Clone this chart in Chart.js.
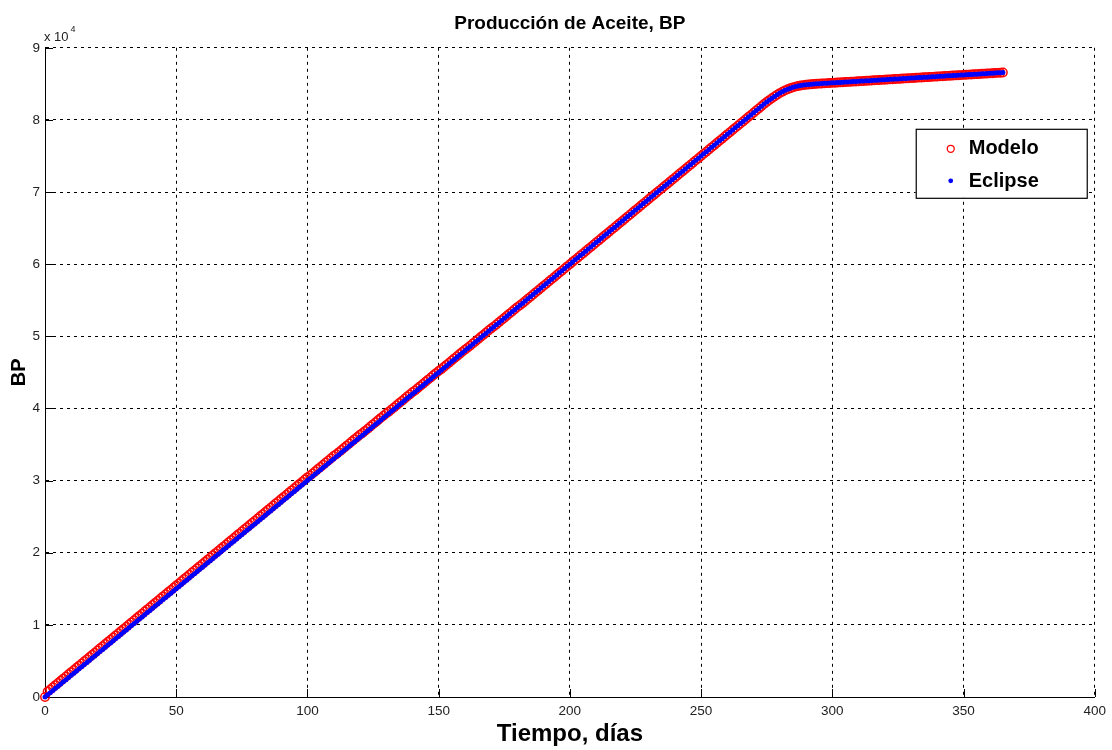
<!DOCTYPE html>
<html lang="es">
<head>
<meta charset="utf-8">
<title>Producción de Aceite, BP</title>
<script src="https://cdn.jsdelivr.net/npm/chart.js@4.4.1/dist/chart.umd.min.js"></script>
<style>
    html, body { margin: 0; padding: 0; background: #fff; }
    canvas { display: block; }
</style>
</head>
<body>
<canvas id="grafica" width="1112" height="750"></canvas>
<script>
// Producción acumulada diaria (BP), día 0 a 365
const eclipseBP = [
    0, 300, 600, 900, 1200, 1500, 1800, 2100, 2400, 2700,
    3000, 3300, 3600, 3900, 4200, 4500, 4800, 5100, 5400, 5700,
    6000, 6300, 6600, 6900, 7200, 7500, 7800, 8100, 8400, 8700,
    9000, 9300, 9600, 9900, 10200, 10500, 10800, 11100, 11400, 11700,
    12000, 12300, 12600, 12900, 13200, 13500, 13800, 14100, 14400, 14700,
    15000, 15300, 15600, 15900, 16200, 16500, 16800, 17100, 17400, 17700,
    18000, 18300, 18600, 18900, 19200, 19500, 19800, 20100, 20400, 20700,
    21000, 21300, 21600, 21900, 22200, 22500, 22800, 23100, 23400, 23700,
    24000, 24300, 24600, 24900, 25200, 25500, 25800, 26100, 26400, 26700,
    27000, 27300, 27600, 27900, 28200, 28500, 28800, 29100, 29400, 29700,
    30000, 30300, 30600, 30900, 31200, 31500, 31800, 32100, 32400, 32700,
    33000, 33300, 33600, 33900, 34200, 34500, 34800, 35100, 35400, 35700,
    36000, 36300, 36600, 36900, 37200, 37500, 37800, 38100, 38400, 38700,
    39000, 39300, 39600, 39900, 40200, 40500, 40800, 41100, 41400, 41700,
    42000, 42300, 42600, 42900, 43200, 43500, 43800, 44100, 44400, 44700,
    45000, 45300, 45600, 45900, 46200, 46500, 46800, 47100, 47400, 47700,
    48000, 48300, 48600, 48900, 49200, 49500, 49800, 50100, 50400, 50700,
    51000, 51300, 51600, 51900, 52200, 52500, 52800, 53100, 53400, 53700,
    54000, 54300, 54600, 54900, 55200, 55500, 55800, 56100, 56400, 56700,
    57000, 57300, 57600, 57900, 58200, 58500, 58800, 59100, 59400, 59700,
    60000, 60300, 60600, 60900, 61200, 61500, 61800, 62100, 62400, 62700,
    63000, 63300, 63600, 63900, 64200, 64500, 64800, 65100, 65400, 65700,
    66000, 66300, 66600, 66900, 67200, 67500, 67800, 68100, 68400, 68700,
    69000, 69300, 69600, 69900, 70200, 70500, 70800, 71100, 71400, 71700,
    72000, 72300, 72600, 72900, 73200, 73500, 73800, 74100, 74400, 74700,
    75000, 75300, 75600, 75900, 76200, 76500, 76800, 77100, 77400, 77700,
    78000, 78300, 78600, 78900, 79200, 79500, 79800, 80100, 80400, 80700,
    81000, 81300, 81600, 81900, 82200, 82480, 82750, 83010, 83260, 83500,
    83720, 83920, 84100, 84260, 84400, 84520, 84620, 84700, 84770, 84830,
    84880, 84920, 84955, 84985, 85010, 85030, 85052, 85074, 85096, 85118,
    85140, 85162, 85184, 85206, 85228, 85250, 85272, 85294, 85316, 85338,
    85360, 85382, 85404, 85426, 85448, 85470, 85492, 85514, 85536, 85558,
    85580, 85602, 85624, 85646, 85668, 85690, 85712, 85734, 85756, 85778,
    85800, 85822, 85844, 85866, 85888, 85910, 85932, 85954, 85976, 85998,
    86020, 86042, 86064, 86086, 86108, 86130, 86152, 86174, 86196, 86218,
    86240, 86262, 86284, 86306, 86328, 86350, 86372, 86394, 86416, 86438,
    86460, 86482, 86504, 86526, 86548, 86570
];

const modeloBP = [
    0, 750, 1050, 1350, 1650, 1950, 2250, 2550, 2850, 3150,
    3450, 3750, 4050, 4350, 4650, 4950, 5250, 5550, 5850, 6150,
    6450, 6750, 7050, 7350, 7650, 7950, 8250, 8550, 8850, 9150,
    9450, 9750, 10050, 10350, 10650, 10950, 11250, 11550, 11850, 12150,
    12450, 12750, 13050, 13350, 13650, 13950, 14250, 14550, 14850, 15150,
    15450, 15750, 16050, 16350, 16650, 16950, 17250, 17550, 17850, 18150,
    18450, 18750, 19050, 19350, 19650, 19950, 20250, 20550, 20850, 21150,
    21450, 21750, 22050, 22350, 22650, 22950, 23250, 23550, 23850, 24150,
    24450, 24750, 25050, 25350, 25650, 25950, 26250, 26550, 26850, 27150,
    27450, 27750, 28050, 28350, 28650, 28950, 29250, 29550, 29850, 30150,
    30450, 30700, 31000, 31300, 31600, 31900, 32200, 32500, 32800, 33100,
    33400, 33650, 33950, 34250, 34550, 34850, 35150, 35450, 35750, 36050,
    36350, 36600, 36900, 37200, 37500, 37800, 38100, 38400, 38700, 39000,
    39300, 39550, 39850, 40150, 40450, 40750, 41050, 41350, 41650, 41950,
    42250, 42500, 42800, 43100, 43400, 43700, 44000, 44300, 44600, 44900,
    45200, 45450, 45750, 46050, 46350, 46650, 46950, 47250, 47550, 47850,
    48150, 48400, 48700, 49000, 49300, 49600, 49900, 50200, 50500, 50800,
    51100, 51350, 51650, 51950, 52250, 52550, 52850, 53150, 53450, 53750,
    54050, 54300, 54600, 54900, 55200, 55500, 55800, 56100, 56400, 56700,
    57000, 57300, 57600, 57900, 58200, 58500, 58800, 59100, 59400, 59700,
    60000, 60300, 60600, 60900, 61200, 61500, 61800, 62100, 62400, 62700,
    63000, 63300, 63600, 63900, 64200, 64500, 64800, 65100, 65400, 65700,
    66000, 66300, 66600, 66900, 67200, 67500, 67800, 68100, 68400, 68700,
    69000, 69300, 69600, 69900, 70200, 70500, 70800, 71100, 71400, 71700,
    72000, 72300, 72600, 72900, 73200, 73500, 73800, 74100, 74400, 74700,
    75000, 75300, 75600, 75900, 76200, 76500, 76800, 77100, 77400, 77700,
    78000, 78300, 78600, 78900, 79200, 79500, 79800, 80100, 80400, 80700,
    81000, 81300, 81600, 81900, 82200, 82480, 82750, 83010, 83260, 83500,
    83720, 83920, 84100, 84260, 84400, 84520, 84620, 84700, 84770, 84830,
    84880, 84920, 84955, 84985, 85010, 85030, 85052, 85074, 85096, 85118,
    85140, 85162, 85184, 85206, 85228, 85250, 85272, 85294, 85316, 85338,
    85360, 85382, 85404, 85426, 85448, 85470, 85492, 85514, 85536, 85558,
    85580, 85602, 85624, 85646, 85668, 85690, 85712, 85734, 85756, 85778,
    85800, 85822, 85844, 85866, 85888, 85910, 85932, 85954, 85976, 85998,
    86020, 86042, 86064, 86086, 86108, 86130, 86152, 86174, 86196, 86218,
    86240, 86262, 86284, 86306, 86328, 86350, 86372, 86394, 86416, 86438,
    86460, 86482, 86504, 86526, 86548, 86570
];

const xTicks = [0, 50, 100, 150, 200, 250, 300, 350, 400];
const yTicks = [0, 1, 2, 3, 4, 5, 6, 7, 8, 9];   // en unidades de 10^4
const escala = 10000;

const FUENTE = '"Liberation Sans Narrow", "Arial Narrow", "Liberation Sans", Arial, sans-serif';

// puntos (día, BP) - el día es la posición en el arreglo
const aPuntos = arr => arr.map((v, i) => ({ x: i, y: v }));

// Marcas hacia adentro, etiqueta "x 10^4" y leyenda tipo MATLAB
const extrasMatlab = {
    id: 'extrasMatlab',
    beforeDatasetsDraw(chart) {
        const { ctx, chartArea: a, scales: { x, y } } = chart;
        ctx.save();
        ctx.strokeStyle = '#000';
        ctx.lineWidth = 1;
        ctx.beginPath();
        x.ticks.forEach(t => {
            const px = Math.round(x.getPixelForValue(t.value)) + 0.5;
            ctx.moveTo(px, a.bottom);
            ctx.lineTo(px, a.bottom - 8);
        });
        y.ticks.forEach(t => {
            const py = Math.round(y.getPixelForValue(t.value)) + 0.5;
            ctx.moveTo(a.left, py);
            ctx.lineTo(a.left + 8, py);
        });
        ctx.stroke();
        ctx.restore();
    },
    afterDraw(chart) {
        const { ctx, chartArea: a } = chart;
        ctx.save();
        // multiplicador del eje y
        ctx.fillStyle = '#222';
        ctx.textBaseline = 'alphabetic';
        ctx.textAlign = 'left';
        ctx.font = '13px ' + FUENTE;
        ctx.fillText('x 10', a.left - 1, a.top - 7);
        const w = ctx.measureText('x 10').width;
        ctx.font = '9px ' + FUENTE;
        ctx.fillText('4', a.left + w + 1, a.top - 16);

        // leyenda
        const lx = a.right - 179, ly = a.top + 81, lw = 171, lh = 69;
        ctx.fillStyle = '#fff';
        ctx.fillRect(lx, ly, lw, lh);
        ctx.strokeStyle = '#000';
        ctx.lineWidth = 1.2;
        ctx.strokeRect(lx + 0.5, ly + 0.5, lw, lh);

        ctx.beginPath();
        ctx.strokeStyle = '#ff0000';
        ctx.lineWidth = 1.3;
        ctx.arc(lx + 35, ly + 20, 3.5, 0, Math.PI * 2);
        ctx.stroke();
        ctx.beginPath();
        ctx.fillStyle = '#0000ff';
        ctx.arc(lx + 35, ly + 52, 2.4, 0, Math.PI * 2);
        ctx.fill();

        ctx.fillStyle = '#000';
        ctx.font = 'bold 20px ' + FUENTE;
        ctx.textBaseline = 'middle';
        ctx.fillText('Modelo', lx + 53, ly + 20);
        ctx.fillText('Eclipse', lx + 53, ly + 53);
        ctx.restore();
    }
};

const ctx = document.getElementById('grafica').getContext('2d');
new Chart(ctx, {
    type: 'scatter',
    data: {
        datasets: [
            {
                label: 'Eclipse',
                data: aPuntos(eclipseBP),
                pointStyle: 'circle',
                pointRadius: 2.5,
                pointBorderWidth: 0,
                backgroundColor: '#0000ff',
                borderColor: '#0000ff',
                order: 0,
                clip: false
            },
            {
                label: 'Modelo',
                data: aPuntos(modeloBP),
                pointStyle: 'circle',
                pointRadius: 4.2,
                pointBorderWidth: 1.5,
                backgroundColor: 'rgba(0,0,0,0)',
                borderColor: '#ff0000',
                order: 1,
                clip: false
            }
        ]
    },
    options: {
        responsive: false,
        animation: false,
        layout: { padding: { left: 0, right: 16, top: 0, bottom: 0 } },
        plugins: {
            legend: { display: false },
            tooltip: { enabled: false },
            title: {
                display: true,
                text: 'Producción de Aceite, BP',
                fullSize: false,
                color: '#000',
                font: { family: FUENTE, size: 19, weight: 'bold' },
                padding: { top: 12, bottom: 13 }
            }
        },
        scales: {
            x: {
                type: 'linear',
                min: xTicks[0],
                max: xTicks[xTicks.length - 1],
                afterBuildTicks: s => { s.ticks = xTicks.map(v => ({ value: v })); },
                afterFit: s => { s.height = 53; },
                ticks: {
                    color: '#222',
                    font: { family: FUENTE, size: 13.5 },
                    padding: 6,
                    maxRotation: 0
                },
                grid: { color: '#000', lineWidth: 1, drawTicks: false },
                border: { display: true, color: '#000', width: 1, dash: [3, 4] },
                title: {
                    display: true,
                    text: 'Tiempo, días',
                    color: '#000',
                    font: { family: FUENTE, size: 24, weight: 'bold' },
                    padding: { top: 0, bottom: 1 }
                }
            },
            y: {
                type: 'linear',
                min: yTicks[0] * escala,
                max: yTicks[yTicks.length - 1] * escala,
                afterBuildTicks: s => { s.ticks = yTicks.map(v => ({ value: v * escala })); },
                afterFit: s => { s.width = 45; },
                ticks: {
                    color: '#222',
                    font: { family: FUENTE, size: 13.5 },
                    padding: 5,
                    callback: v => String(v / escala)
                },
                grid: { color: '#000', lineWidth: 1, drawTicks: false },
                border: { display: true, color: '#000', width: 1, dash: [3, 4] },
                title: {
                    display: true,
                    text: 'BP',
                    color: '#000',
                    font: { family: FUENTE, size: 20, weight: 'bold' },
                    padding: { top: 7, bottom: 0 }
                }
            }
        }
    },
    plugins: [extrasMatlab]
});
</script>
</body>
</html>
